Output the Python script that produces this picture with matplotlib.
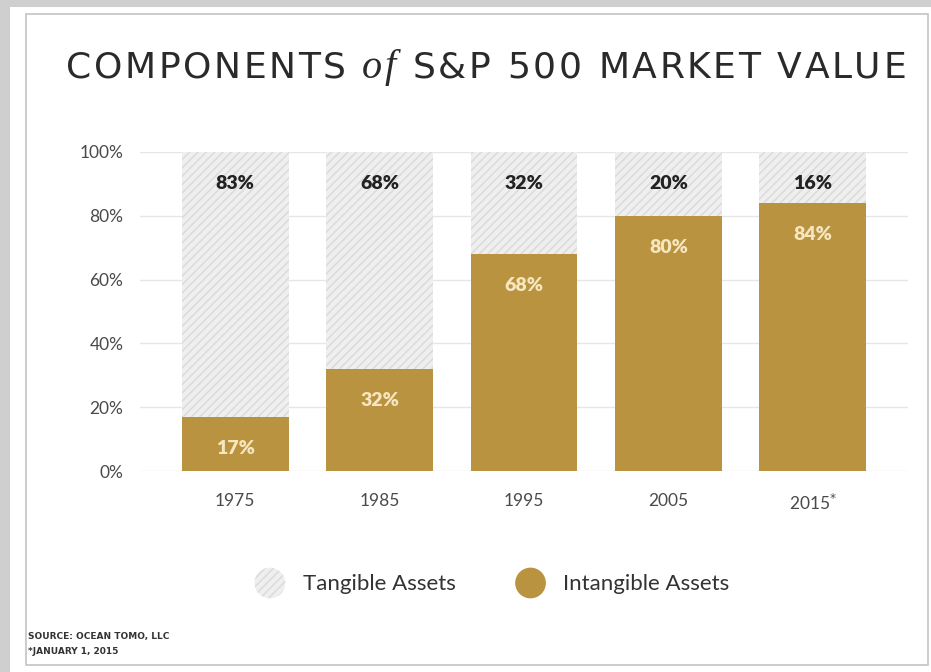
import numpy as np
import matplotlib.pyplot as plt
from matplotlib.patches import Rectangle, Circle
from matplotlib.legend_handler import HandlerPatch

# datos
years = ["1975", "1985", "1995", "2005", "2015*"]
intangible = [17, 32, 68, 80, 84]
tangible = [83, 68, 32, 20, 16]
y_ticks = [0, 20, 40, 60, 80, 100]

GOLD = "#b9933f"
HATCH_BG = "#efefef"
HATCH_LINE = "#dcdcdc"

W, H = 931, 672
fig = plt.figure(figsize=(W / 100, H / 100), dpi=100)
fig.patch.set_facecolor("#cfcfcf")

def px(x0, y0, x1, y1):
    # caja en pixeles (origen arriba-izquierda) -> coords de figura
    return [x0 / W, 1 - y1 / H, (x1 - x0) / W, (y1 - y0) / H]

# fondo tipo tarjeta
b = px(10, 7, 931, 672)
fig.patches.append(Rectangle((b[0], b[1]), b[2], b[3], transform=fig.transFigure,
                             facecolor="white", edgecolor="none", zorder=-3))
b = px(26, 14, 928, 665)
fig.patches.append(Rectangle((b[0], b[1]), b[2], b[3], transform=fig.transFigure,
                             facecolor="white", edgecolor="#c4c4c4", lw=1.2, zorder=-2))

ax = fig.add_axes(px(140, 152, 908, 471))
x = np.arange(len(years))
bw = 0.74

plt.rcParams["hatch.color"] = HATCH_LINE
plt.rcParams["hatch.linewidth"] = 1.2
tang_bars = ax.bar(x, tangible, bw, bottom=intangible, color=HATCH_BG,
                   hatch="////", edgecolor=HATCH_LINE, linewidth=0, zorder=2,
                   label="Tangible Assets")
int_bars = ax.bar(x, intangible, bw, color=GOLD, linewidth=0, zorder=3,
                  label="Intangible Assets")

for i in range(len(years)):
    ax.text(x[i], 90, f"{tangible[i]}%", ha="center", va="center",
            fontsize=14, fontweight="heavy", color="#222222", family="Lato", zorder=4)
    ax.text(x[i], intangible[i] - 10, f"{intangible[i]}%", ha="center", va="center",
            fontsize=14, fontweight="heavy", color="#f6e7c1", family="Lato", zorder=4)

ax.set_xlim(-0.66, 4.66)
ax.set_ylim(0, 100)
ax.set_yticks(y_ticks)
ax.set_yticklabels([f"{v}%" for v in y_ticks])
ax.set_xticks(x)
ax.set_xticklabels([y.replace("*", "$^{*}$") for y in years])
ax.tick_params(axis="both", length=0, labelsize=12.5, labelcolor="#4a4a4a")
ax.tick_params(axis="y", pad=12)
ax.tick_params(axis="x", pad=16)
for lab in ax.get_xticklabels() + ax.get_yticklabels():
    lab.set_family("Lato")
ax.grid(axis="y", color="#e6e6e6", lw=1)
ax.set_axisbelow(True)
for s in ax.spines.values():
    s.set_visible(False)
ax.set_facecolor("none")

# titulo, letra por letra con espaciado extra
fig.canvas.draw()
r = fig.canvas.get_renderer()
ty = 1 - 68 / H
TS = 26
parts = [("COMPONENTS ", dict(family="DejaVu Sans")),
         ("of", dict(family="Liberation Serif", style="italic", size=TS + 3)),
         (" S&P 500 MARKET VALUE", dict(family="DejaVu Sans"))]

def char_w(c, kw):
    kw = dict(kw)
    kw.setdefault("size", TS)
    if c == " ":
        a = fig.text(0, 0, "n n", **kw)
        b2 = fig.text(0, 0, "nn", **kw)
        w = a.get_window_extent(r).width - b2.get_window_extent(r).width
        a.remove(); b2.remove()
        return w
    t = fig.text(0, 0, c, **kw)
    w = t.get_window_extent(r).width
    t.remove()
    return w

chars = [(c, kw) for txt, kw in parts for c in txt]
widths = [char_w(c, kw) for c, kw in chars]
x0, x1 = 66, 906
track = (x1 - x0 - sum(widths)) / (len(chars) - 1)
xp = x0
for (c, kw), w in zip(chars, widths):
    kw = dict(kw)
    kw.setdefault("size", TS)
    if c != " ":
        fig.text(xp / W, ty, c, color="#2a2a2a", va="center", ha="left", **kw)
    xp += w + track

# leyenda con circulos
class CircleHandler(HandlerPatch):
    def create_artists(self, legend, orig, xd, yd, width, height, fontsize, trans):
        c = Circle((width / 2 - xd, height / 2 - yd), min(width, height) / 2)
        c.set_facecolor(orig.get_facecolor())
        c.set_hatch(orig.get_hatch())
        c.set_edgecolor(HATCH_LINE if orig.get_hatch() else "none")
        c.set_linewidth(0)
        c.set_transform(trans)
        return [c]

leg = fig.legend(handles=[tang_bars.patches[0], int_bars.patches[0]],
                 labels=["Tangible Assets", "Intangible Assets"],
                 handler_map={Rectangle: CircleHandler()},
                 loc="center", bbox_to_anchor=(490 / W, 1 - 583 / H), ncol=2,
                 frameon=False, prop={"family": "Lato", "size": 16},
                 handlelength=1.75, handleheight=1.75, handletextpad=0.6,
                 columnspacing=2.5)
for t in leg.get_texts():
    t.set_color("#333333")

fig.text(28 / W, 1 - 637 / H, "SOURCE: OCEAN TOMO, LLC", fontsize=6.5,
         fontweight="bold", color="#333333", va="center", family="Liberation Sans Narrow")
fig.text(28 / W, 1 - 651 / H, "*JANUARY 1, 2015", fontsize=6.5,
         fontweight="bold", color="#333333", va="center", family="Liberation Sans Narrow")

fig.savefig("out.png", dpi=100, facecolor=fig.get_facecolor())
